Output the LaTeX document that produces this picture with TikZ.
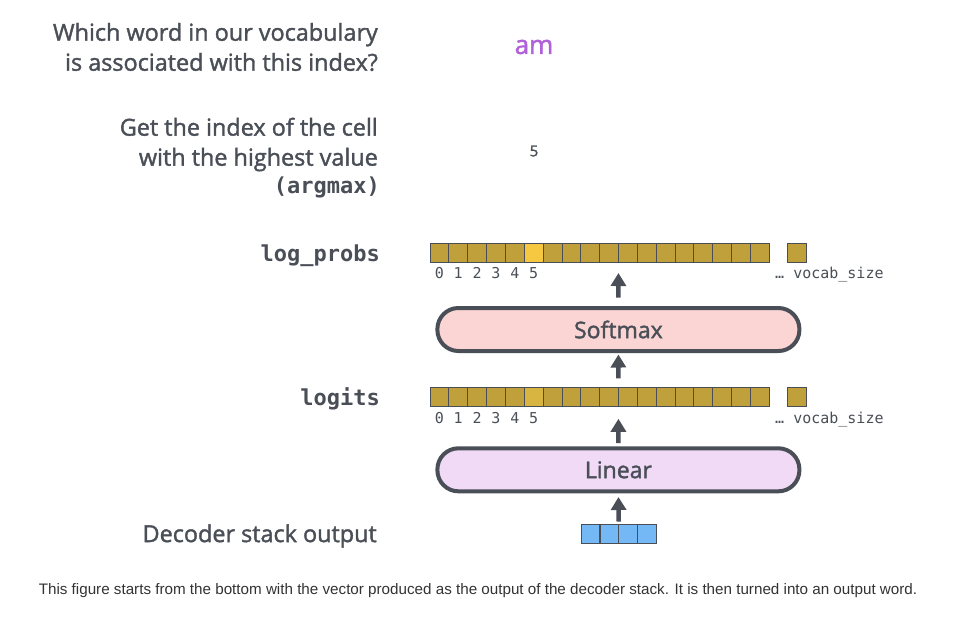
\documentclass[tikz,border=0pt]{standalone}
\usepackage{fontspec}
\setmainfont{Open Sans}[FakeBold=1.6]
\setmonofont{DejaVu Sans Mono}
\newfontfamily\captionfont{Liberation Sans}
\usetikzlibrary{arrows.meta,positioning}
\definecolor{ink}{RGB}{74,79,87}
\definecolor{cellgold}{RGB}{192,160,58}
\definecolor{cellhot}{RGB}{246,200,66}
\definecolor{cellwarm}{RGB}{216,180,64}
\definecolor{cellblue}{RGB}{116,185,245}
\definecolor{softpink}{RGB}{251,212,212}
\definecolor{linlilac}{RGB}{240,218,245}
\definecolor{wordpurple}{RGB}{176,96,216}
\definecolor{captiongray}{RGB}{51,51,51}

\tikzset{
  cell/.style={draw=ink, line width=0.8pt, fill=cellgold, minimum width=18.85pt,
    minimum height=19pt, inner sep=0pt, outer sep=0pt},
  layerbox/.style={draw=ink, line width=4pt, rounded corners=21pt, minimum width=362pt,
    minimum height=43pt, text=ink, font=\fontsize{23}{27}\selectfont},
  flow/.style={ink, line width=4.5pt, -{Triangle[width=15pt,length=13pt]}},
  idx/.style={anchor=base, text=ink, inner sep=0pt, font=\ttfamily\fontsize{15}{17}\selectfont},
  sidelabel/.style={anchor=east, align=right, text=ink, inner sep=0pt,
    font=\fontsize{23.4}{30}\selectfont},
  codelabel/.style={anchor=east, text=ink, inner sep=0pt,
    font=\ttfamily\bfseries\fontsize{22}{26}\selectfont},
}

\begin{document}
\begin{tikzpicture}[x=1pt,y=-1pt]
\useasboundingbox (0,0) rectangle (971,619);

% questions on the left, answers in the middle
\node[sidelabel] (askword) at (378,47) {Which word in our vocabulary\\is associated with this index?};
\node[text=wordpurple, font=\fontsize{26}{30}\selectfont] (word) at (534,47) {am};
\node[sidelabel] (askindex) at (378,144.5) {Get the index of the cell\\with the highest value};
\node[codelabel] (argmax) at (380,187) {(argmax)};
\node[text=ink, font=\fontsize{15}{18}\selectfont] (index) at (534,151) {5};

% log_probs vector
\node[codelabel] (lplabel) at (380,255.5) {log\_probs};
\foreach \i in {0,...,17}
  \node[cell] (lp\i) at ({439.4+18.85*\i},252.8) {};
\node[cell, fill=cellhot] at (lp5) {};
\node[cell] (lpend) at (796.5,252.8) {};
\foreach \i in {0,...,5}
  \node[idx] at ({439.4+18.85*\i},278) {\i};
\node[idx, anchor=base west] (lpsize) at (775,278) {… vocab\_size};

\node[layerbox, fill=softpink] (softmax) at (618.4,329.5) {Softmax};

% logits vector
\node[codelabel] (lglabel) at (380,399) {logits};
\foreach \i in {0,...,17}
  \node[cell] (lg\i) at ({439.4+18.85*\i},397) {};
\node[cell, fill=cellwarm] at (lg5) {};
\node[cell] (lgend) at (796.5,397) {};
\foreach \i in {0,...,5}
  \node[idx] at ({439.4+18.85*\i},423) {\i};
\node[idx, anchor=base west] (lgsize) at (775,423) {… vocab\_size};

\node[layerbox, fill=linlilac] (linear) at (618.4,469.8) {Linear};

% decoder output
\node[sidelabel] (declabel) at (377,536) {Decoder stack output};
\foreach \i in {0,...,3}
  \node[cell, fill=cellblue] (dec\i) at ({590.45+18.9*\i},533.5) {};

\draw[flow, shorten <=2.3pt, shorten >=3.7pt] (dec1.north east) -- (linear.south);
\draw[flow, shorten <=3.3pt, shorten >=12.3pt] (linear.north) -- (lg9.south east);
\draw[flow, shorten <=9.2pt, shorten >=1.5pt] (lg9.north east) -- (softmax.south);
\draw[flow, shorten <=8.5pt, shorten >=10.7pt] (softmax.north) -- (lp9.south east);

\node[text=captiongray, font=\captionfont\fontsize{15.2}{17}\selectfont] (caption) at (478,591)
  {This figure starts from the bottom with the vector produced as the output of the decoder stack. It is then turned into an output word.};
\end{tikzpicture}
\end{document}
